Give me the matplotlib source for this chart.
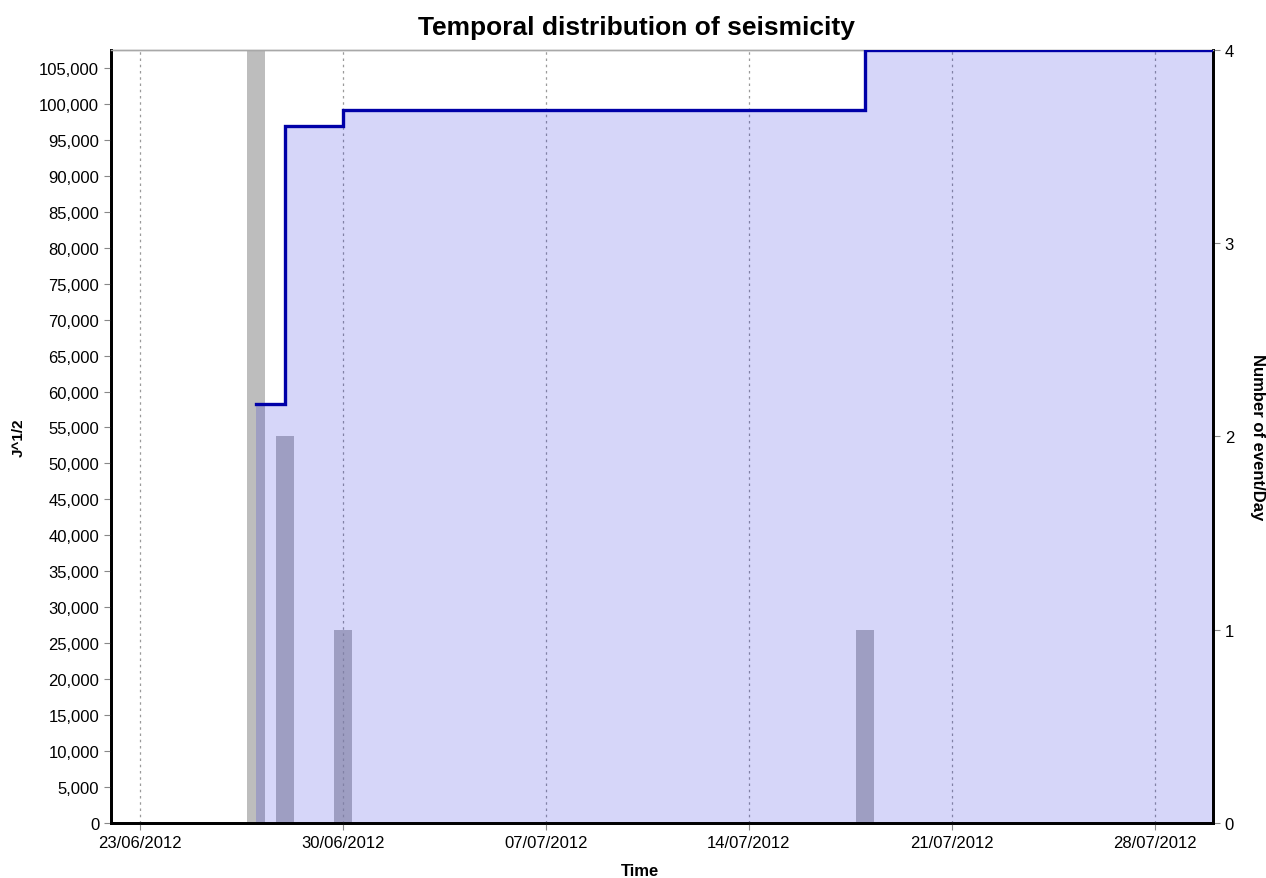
import matplotlib
matplotlib.use("Agg")
import matplotlib.pyplot as plt
import matplotlib.dates as mdates
from matplotlib.ticker import FuncFormatter, MultipleLocator
import numpy as np
from datetime import datetime, timedelta

plt.rcParams['font.family'] = ['Liberation Sans', 'DejaVu Sans']

# daily event counts (right axis)
bar_days = ["2012-06-27", "2012-06-28", "2012-06-30", "2012-07-18"]
bar_counts = [4, 2, 1, 1]

# cumulative J^1/2 (left axis), step after each event day
cum_days = ["2012-06-27", "2012-06-28", "2012-06-30", "2012-07-18"]
cum_values = [58200, 96900, 99200, 107500]

tick_days = ["2012-06-23", "2012-06-30", "2012-07-07", "2012-07-14", "2012-07-21", "2012-07-28"]

x_start = datetime(2012, 6, 22)
x_end = datetime(2012, 7, 30)


def to_dt(days):
    return [datetime.strptime(d, "%Y-%m-%d") for d in days]


fig = plt.figure(figsize=(12.66, 8.79), dpi=100)
ax = fig.add_axes([0.0877, 0.0626, 0.8704, 0.8794])
ax2 = ax.twinx()

# bars go behind the cumulative area
ax.set_zorder(ax2.get_zorder() + 1)
ax.patch.set_visible(False)
ax2.patch.set_facecolor("white")

bx = mdates.date2num(to_dt(bar_days))
ax2.bar(bx, bar_counts, width=0.62, color="#bdbdbd", edgecolor="none", zorder=2)
ax2.set_ylim(0, 4)
ax2.yaxis.set_major_locator(MultipleLocator(1))

# cumulative step line + filled area
cx = list(mdates.date2num(to_dt(cum_days))) + [mdates.date2num(x_end)]
cy = cum_values + [cum_values[-1]]
ax.fill_between(cx, 0, cy, step="post", color=(0, 0, 0.875), alpha=0.16,
                linewidth=0, zorder=2)
ax.plot(cx, cy, drawstyle="steps-post", color="#0000a8", lw=2.4, zorder=3,
        solid_joinstyle="miter")

ax.set_xlim(x_start, x_end)
ax.set_ylim(0, 107500)
ax.yaxis.set_major_locator(MultipleLocator(5000))
ax.yaxis.set_major_formatter(FuncFormatter(lambda v, p: f"{int(v):,}"))

ax.set_xticks(to_dt(tick_days))
ax.xaxis.set_major_formatter(mdates.DateFormatter("%d/%m/%Y"))
ax.grid(True, axis="x", color="#9a9a9a", linestyle=(0, (2, 3)), linewidth=0.9)

for a in (ax, ax2):
    a.tick_params(axis="both", labelsize=12, color="#888888", length=5, width=0.8)
    a.spines["top"].set_color("#a8a8a8")
    a.spines["top"].set_linewidth(1.0)
    for s in ("left", "bottom", "right"):
        a.spines[s].set_color("black")
        a.spines[s].set_linewidth(2.0)

fig.text(0.503, 0.968, "Temporal distribution of seismicity", fontsize=19,
         fontweight="bold", ha="center", va="center")
ax.set_xlabel("Time", fontsize=12, fontweight="bold", labelpad=2)
ax.xaxis.set_label_coords(0.48, -0.052)
ax.set_ylabel("J^1/2", fontsize=11, fontweight="bold", labelpad=10)
ax2.set_ylabel("Number of event/Day", fontsize=12, fontweight="bold",
               rotation=270, labelpad=22)

fig.savefig("out.png", dpi=100)
